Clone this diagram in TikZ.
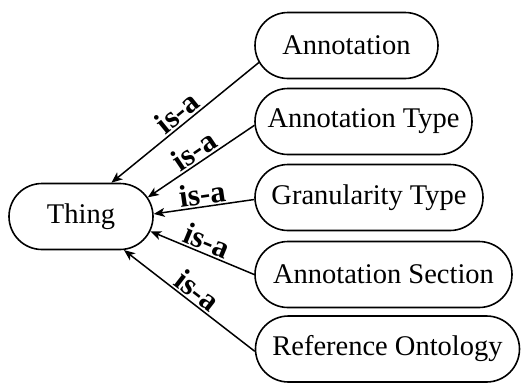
\documentclass[tikz,border=0pt]{standalone}
\usepackage{fontspec}
\setmainfont{Liberation Serif}
\usetikzlibrary{shapes.misc,arrows.meta}
\tikzset{
  pill/.style={rounded rectangle, draw=black, line width=1.6pt, minimum height=66pt, inner sep=0pt,
    font=\fontsize{28.5}{31}\selectfont},
  isa/.style={line width=1.5pt, {Stealth[length=11pt,width=9pt,inset=3pt]}-},
  isalabel/.style={midway, above, sloped, inner sep=1.5pt, font=\fontsize{31}{33}\selectfont\bfseries}
}
\begin{document}
\begin{tikzpicture}[x=1pt,y=-1pt]
\useasboundingbox (0,0) rectangle (522,383);
\node[pill, minimum width=144pt] (thing) at (81,216.5) {Thing};
\node[pill, minimum width=183pt] (ann) at (346.5,45.5) {Annotation};
\node[pill, minimum width=217pt] (atype) at (363.5,121.5) {Annotation Type};
\node[pill, minimum width=228pt] (gran) at (369,197.5) {Granularity Type};
\node[pill, minimum width=257pt] (sec) at (383.5,274.5) {Annotation Section};
\node[pill, minimum width=264pt] (ref) at (387.5,349) {Reference Ontology};
\draw[isa] (thing.48) -- (ann.191.4) node[isalabel] {is-a};
\draw[isa] (thing.16) -- (atype.182.9) node[isalabel] {is-a};
\draw[isa] (thing.2) -- (gran.181.3) node[isalabel] {is-a};
\draw[isa] (thing.348.5) -- (sec.180.9) node[isalabel] {is-a};
\draw[isa] (thing.322) -- (ref.181.3) node[isalabel] {is-a};
\end{tikzpicture}
\end{document}
